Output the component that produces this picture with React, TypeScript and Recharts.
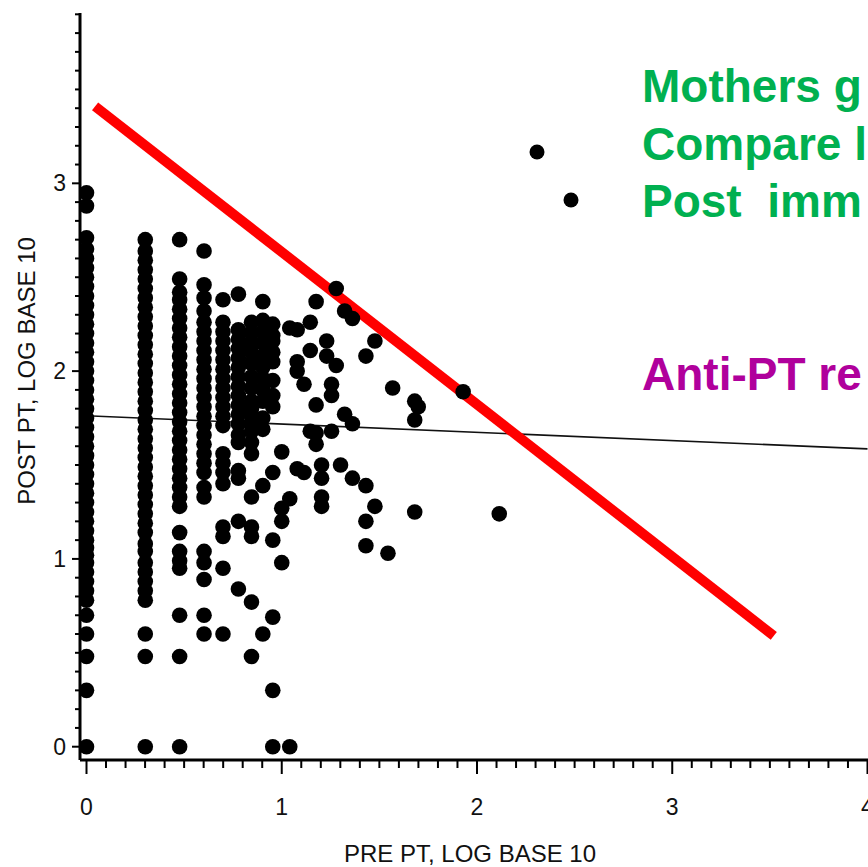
import { ScatterChart, Scatter, XAxis, YAxis, ReferenceLine } from 'recharts';

// post titer (log10) per pre-titer column
const PRE_COLUMNS = [0, 0.301, 0.477, 0.602, 0.699, 0.778, 0.845, 0.903, 0.954, 1.0];

const post1 = [0, 0.30, 0.48, 0.60, 0.70, 0.78, 0.83, 0.88, 0.93, 0.98, 1.02, 1.06, 1.10, 1.15, 1.20, 1.25, 1.30, 1.35, 1.40, 1.45, 1.50, 1.55, 1.60, 1.65, 1.70, 1.75, 1.80, 1.85, 1.90, 1.95, 2.00, 2.05, 2.10, 2.15, 2.20, 2.25, 2.30, 2.35, 2.40, 2.45, 2.50, 2.55, 2.60, 2.65, 2.71, 2.88, 2.95];
const post2 = [0, 0.48, 0.60, 0.78, 0.83, 0.88, 0.93, 0.98, 1.04, 1.08, 1.14, 1.19, 1.24, 1.29, 1.34, 1.39, 1.44, 1.49, 1.54, 1.59, 1.64, 1.69, 1.74, 1.79, 1.84, 1.89, 1.94, 1.99, 2.04, 2.09, 2.14, 2.19, 2.24, 2.29, 2.34, 2.39, 2.44, 2.49, 2.54, 2.59, 2.64, 2.70];
const post3 = [0, 0.48, 0.70, 0.95, 0.99, 1.04, 1.14, 1.28, 1.33, 1.38, 1.43, 1.48, 1.53, 1.58, 1.63, 1.68, 1.73, 1.78, 1.83, 1.88, 1.93, 1.98, 2.03, 2.08, 2.13, 2.18, 2.23, 2.28, 2.33, 2.38, 2.42, 2.49, 2.70];
const post4 = [0.60, 0.70, 0.89, 0.98, 1.04, 1.33, 1.38, 1.46, 1.51, 1.56, 1.61, 1.66, 1.71, 1.76, 1.81, 1.86, 1.91, 1.96, 2.01, 2.06, 2.11, 2.16, 2.21, 2.26, 2.32, 2.39, 2.46, 2.64];
const post5 = [0.60, 0.95, 1.12, 1.17, 1.40, 1.46, 1.51, 1.56, 1.71, 1.76, 1.81, 1.86, 1.91, 1.96, 2.01, 2.06, 2.11, 2.16, 2.21, 2.26, 2.38];
const post6 = [0.84, 1.20, 1.43, 1.47, 1.62, 1.66, 1.72, 1.77, 1.82, 1.87, 1.92, 1.97, 2.02, 2.07, 2.12, 2.17, 2.22, 2.41];
const post7 = [0.48, 0.77, 1.12, 1.17, 1.33, 1.56, 1.62, 1.68, 1.72, 1.76, 1.80, 1.84, 1.91, 1.97, 2.04, 2.10, 2.15, 2.20, 2.26];
const post8 = [0.60, 1.39, 1.69, 1.75, 1.84, 1.90, 1.96, 2.02, 2.08, 2.15, 2.21, 2.27, 2.37];
const post9 = [0, 0.30, 0.69, 1.10, 1.46, 1.81, 1.87, 1.95, 2.05, 2.10, 2.16, 2.19, 2.25];
const post10 = [0.98, 1.20, 1.27, 1.57];
const POST_COLUMNS = [post1, post2, post3, post4, post5, post6, post7, post8, post9, post10];

// sparse points to the right of the dense columns
const sparsePre = [1.041, 1.041, 1.041, 1.079, 1.079, 1.079, 1.079, 1.114, 1.114, 1.146, 1.146, 1.146, 1.176, 1.176, 1.176, 1.176, 1.204, 1.204, 1.204, 1.204, 1.230, 1.230, 1.255, 1.255, 1.255, 1.279, 1.279, 1.301, 1.322, 1.322, 1.362, 1.362, 1.362, 1.431, 1.431, 1.431, 1.431, 1.477, 1.477, 1.544, 1.568, 1.681, 1.681, 1.681, 1.699, 1.929, 2.114];
const sparsePost = [0, 1.32, 2.23, 1.48, 2.00, 2.05, 2.22, 1.46, 1.93, 1.68, 2.11, 2.26, 1.61, 1.67, 1.82, 2.37, 1.28, 1.33, 1.43, 1.50, 2.08, 2.16, 1.68, 1.87, 1.93, 2.03, 2.44, 1.50, 1.77, 2.32, 1.43, 1.72, 2.28, 1.07, 1.20, 1.39, 2.08, 1.28, 2.16, 1.03, 1.91, 1.25, 1.74, 1.84, 1.81, 1.89, 1.24];

const fitLine = [{ x: 0, y: 1.762 }, { x: 4.0, y: 1.586 }];
const redLine = [{ x: 0.044, y: 3.41 }, { x: 3.52, y: 0.59 }];

const X_TICKS = Array.from({ length: 41 }, (_, i) => +(i / 10).toFixed(1));
const Y_TICKS = Array.from({ length: 40 }, (_, i) => +(i / 10).toFixed(1));

const points = [
  ...PRE_COLUMNS.flatMap((x, i) => POST_COLUMNS[i].map((y) => ({ x, y }))),
  ...sparsePre.map((x, i) => ({ x, y: sparsePost[i] })),
];

const FONT = '"Liberation Sans", Arial, sans-serif';

function XTick(props: any) {
  const { x, y, payload } = props;
  const major = Number.isInteger(payload.value);
  return (
    <g>
      <line x1={x} y1={y} x2={x} y2={y + (major ? 14 : 8)} stroke="#000" strokeWidth={2} />
      {major && (
        <text x={x} y={y + 55} textAnchor="middle" fontSize={23} fontFamily={FONT} fill="#111">
          {payload.value}
        </text>
      )}
    </g>
  );
}

function YTick(props: any) {
  const { x, y, payload } = props;
  const major = Number.isInteger(payload.value);
  return (
    <g>
      <line x1={x} y1={y} x2={x - (major ? 8 : 5)} y2={y} stroke="#000" strokeWidth={2} />
      {major && (
        <text x={x - 14} y={y + 8} textAnchor="end" fontSize={23} fontFamily={FONT} fill="#111">
          {payload.value}
        </text>
      )}
    </g>
  );
}

const Dot = (props: any) => <circle cx={props.cx} cy={props.cy} r={7.8} fill="#000" />;

export default function App() {
  return (
    <div style={{ position: 'absolute', left: 0, top: 0, width: 868, height: 867, overflow: 'hidden', background: '#fff' }}>
      <ScatterChart width={868} height={867} margin={{ top: 13, right: 0, bottom: 47, left: 0 }}>
        <XAxis
          type="number"
          dataKey="x"
          domain={[-0.0333, 4.0026]}
          allowDataOverflow
          ticks={X_TICKS}
          interval={0}
          tickLine={false}
          tickSize={0}
          tickMargin={0}
          tick={(p: any) => <XTick {...p} />}
          axisLine={{ stroke: '#000', strokeWidth: 3 }}
          height={60}
        />
        <YAxis
          type="number"
          dataKey="y"
          domain={[-0.0708, 3.907]}
          allowDataOverflow
          ticks={Y_TICKS}
          interval={0}
          tickLine={false}
          tickSize={0}
          tickMargin={0}
          tick={(p: any) => <YTick {...p} />}
          axisLine={{ stroke: '#000', strokeWidth: 3 }}
          width={80}
        />
        <Scatter data={points} shape={Dot} isAnimationActive={false} />
        <ReferenceLine segment={fitLine} stroke="#111" strokeWidth={1.6} ifOverflow="hidden" />
        <ReferenceLine segment={redLine} stroke="#ff0000" strokeWidth={10} ifOverflow="visible" />
      </ScatterChart>
      <svg width={868} height={867} style={{ position: 'absolute', left: 0, top: 0, pointerEvents: 'none' }}>
        <text x={35} y={371} transform="rotate(-90 35 371)" textAnchor="middle" fontSize={24} fontFamily={FONT} fill="#111">
          POST PT, LOG BASE 10
        </text>
        <text x={470} y={862} textAnchor="middle" fontSize={24} fontFamily={FONT} fill="#111">
          PRE PT, LOG BASE 10
        </text>
        <g fontFamily={FONT} fontWeight="bold" fontSize={46}>
          <text x={642} y={102} fill="#00b050">Mothers g</text>
          <text x={642} y={160} fill="#00b050">Compare l</text>
          <text x={642} y={217} fill="#00b050">{'Post\u00a0 imm'}</text>
          <text x={642} y={390} fill="#b0009c">Anti-PT re</text>
        </g>
        <circle cx={537} cy={152} r={7.5} fill="#000" />
        <circle cx={571} cy={200} r={7.5} fill="#000" />
      </svg>
    </div>
  );
}
